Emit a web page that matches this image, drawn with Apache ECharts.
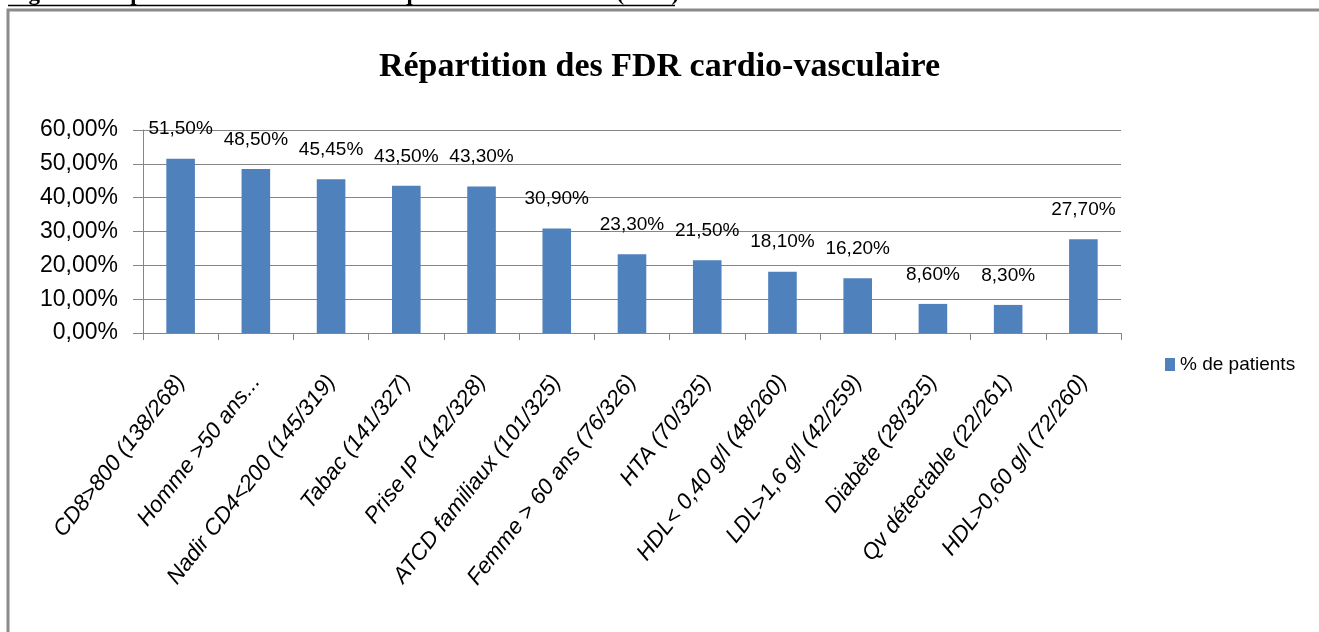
<!DOCTYPE html>
<html>
<head>
<meta charset="utf-8">
<script src="https://cdn.jsdelivr.net/npm/echarts@6/dist/echarts.min.js"></script>
<style>html,body{margin:0;padding:0;background:#fff;}#c{width:1319px;height:632px;}</style>
</head>
<body>
<div id="c"></div>
<script>
const categories = [
  "CD8>800 (138/268)",
  "Homme >50 ans...",
  "Nadir CD4<200 (145/319)",
  "Tabac (141/327)",
  "Prise IP (142/328)",
  "ATCD familiaux (101/325)",
  "Femme > 60 ans (76/326)",
  "HTA (70/325)",
  "HDL< 0,40 g/l (48/260)",
  "LDL>1,6 g/l (42/259)",
  "Diabète (28/325)",
  "Qv détectable (22/261)",
  "HDL>0,60 g/l (72/260)"
];
const patientsPct = [51.5, 48.5, 45.45, 43.5, 43.3, 30.9, 23.3, 21.5, 18.1, 16.2, 8.6, 8.3, 27.7];
const seriesName = "% de patients";
const chartTitle = "Répartition des FDR cardio-vasculaire";
const captionText = "Figure 3: Répartition des facteurs de risque cardio-vasculaire (FDR)";

function fmtPct(v, digits) {
  return v.toFixed(digits).replace('.', ',') + '%';
}

const chart = echarts.init(document.getElementById('c'), null, {renderer: 'canvas'});
chart.setOption({
  backgroundColor: '#ffffff',
  animation: false,
  title: {
    text: chartTitle,
    left: 'center',
    top: 45,
    textStyle: {fontFamily: 'Liberation Serif', fontWeight: 'bold', fontSize: 34, color: '#000'}
  },
  legend: {
    data: [seriesName],
    left: 1160,
    top: 350,
    icon: 'rect',
    itemWidth: 10,
    itemHeight: 13,
    itemGap: 5,
    textStyle: {fontFamily: 'Liberation Sans', fontSize: 19, color: '#000'}
  },
  grid: {left: 143, right: 198, top: 130, bottom: 299, containLabel: false},
  xAxis: {
    type: 'category',
    data: categories,
    axisLine: {lineStyle: {color: '#868686', width: 1}},
    axisTick: {show: true, length: 7, lineStyle: {color: '#868686'}},
    axisLabel: {
      interval: 0,
      rotate: 52,
      margin: 45,
      fontFamily: 'Liberation Sans',
      fontStyle: 'italic',
      fontSize: 22.5,
      color: '#000'
    }
  },
  yAxis: {
    type: 'value',
    min: 0,
    max: 60,
    interval: 10,
    axisLine: {show: true, lineStyle: {color: '#868686', width: 1}},
    axisTick: {show: true, length: 10, lineStyle: {color: '#868686'}},
    splitLine: {lineStyle: {color: '#868686', width: 1}},
    axisLabel: {
      margin: 25,
      fontFamily: 'Liberation Sans',
      fontSize: 23,
      color: '#000',
      formatter: v => fmtPct(v, 2)
    }
  },
  series: [{
    name: seriesName,
    type: 'bar',
    data: patientsPct,
    barWidth: '38%',
    itemStyle: {color: '#4F81BD'},
    label: {
      show: true,
      position: 'top',
      distance: 20,
      fontFamily: 'Liberation Sans',
      fontSize: 19,
      color: '#000',
      formatter: p => fmtPct(p.value, 2)
    }
  }],
  graphic: [
    {
      type: 'text',
      left: 8,
      top: -17,
      style: {text: captionText, fontFamily: 'Liberation Serif', fontWeight: 'bold', fontSize: 23, fill: '#000'}
    },
    {
      type: 'line',
      shape: {x1: 8, y1: 5.5, x2: 675, y2: 5.5},
      style: {stroke: '#000', lineWidth: 1.5}
    },
    {
      type: 'polyline',
      shape: {points: [[8, 632], [8, 10], [1319, 10]]},
      style: {stroke: '#8a8a8a', lineWidth: 3, fill: null}
    }
  ]
});
</script>
</body>
</html>
